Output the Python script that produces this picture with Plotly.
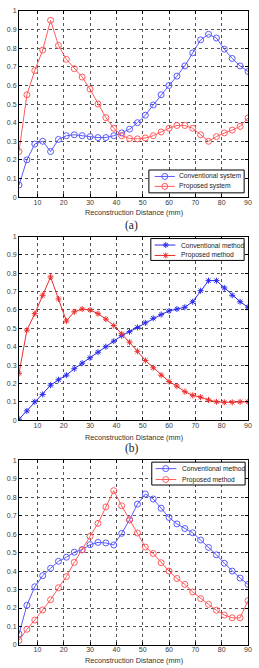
import plotly.graph_objects as go

x = [3, 6, 9, 12, 15, 18, 21, 24, 27, 30, 33, 36, 39, 42, 45, 48, 51, 54, 57, 60,
     63, 66, 69, 72, 75, 78, 81, 84, 87, 90]

# (a)
a_conventional = [0.065, 0.20, 0.285, 0.30, 0.245, 0.31, 0.33, 0.335, 0.33, 0.325,
                  0.32, 0.32, 0.33, 0.345, 0.365, 0.40, 0.44, 0.495, 0.55, 0.60,
                  0.65, 0.705, 0.775, 0.845, 0.875, 0.855, 0.795, 0.745, 0.705, 0.675]
a_proposed = [0.245, 0.55, 0.68, 0.79, 0.95, 0.815, 0.74, 0.69, 0.645, 0.58,
              0.50, 0.427, 0.37, 0.33, 0.315, 0.313, 0.318, 0.33, 0.35, 0.37,
              0.385, 0.385, 0.37, 0.335, 0.30, 0.325, 0.345, 0.36, 0.38, 0.425]
# (b)
b_conventional = [0.005, 0.05, 0.10, 0.14, 0.19, 0.22, 0.245, 0.28, 0.31, 0.34,
                  0.37, 0.40, 0.43, 0.46, 0.482, 0.505, 0.53, 0.555, 0.575, 0.595,
                  0.605, 0.615, 0.645, 0.705, 0.76, 0.76, 0.72, 0.68, 0.645, 0.615]
b_proposed = [0.255, 0.49, 0.58, 0.68, 0.78, 0.66, 0.54, 0.59, 0.605, 0.60,
              0.58, 0.55, 0.515, 0.47, 0.425, 0.375, 0.325, 0.285, 0.245, 0.21,
              0.185, 0.155, 0.135, 0.125, 0.11, 0.10, 0.097, 0.097, 0.10, 0.10]
# (c)
c_conventional = [0.06, 0.215, 0.315, 0.375, 0.415, 0.453, 0.475, 0.502, 0.516, 0.543,
                  0.555, 0.552, 0.541, 0.604, 0.677, 0.762, 0.817, 0.79, 0.74, 0.69,
                  0.655, 0.63, 0.607, 0.568, 0.528, 0.488, 0.442, 0.40, 0.362, 0.328]
c_proposed = [0.025, 0.085, 0.135, 0.19, 0.245, 0.31, 0.37, 0.447, 0.514, 0.588,
              0.658, 0.747, 0.835, 0.753, 0.677, 0.606, 0.53, 0.495, 0.445, 0.40,
              0.36, 0.328, 0.287, 0.251, 0.22, 0.188, 0.162, 0.147, 0.147, 0.24]

x_ticks = [10, 20, 30, 40, 50, 60, 70, 80, 90]
y_ticks = [0, 0.1, 0.2, 0.3, 0.4, 0.5, 0.6, 0.7, 0.8, 0.9, 1]
y_ticktext = ["0", "0.1", "0.2", "0.3", "0.4", "0.5", "0.6", "0.7", "0.8", "0.9", "1"]
x_title = "Reconstruction Distance (mm)"
captions = ["(a)", "(b)"]
legend_names = [["Conventional system", "Proposed system"],
                ["Conventional method", "Proposed method"],
                ["Conventional method", "Proposed method"]]

BLUE1, RED1 = "#5a5aff", "#ff5a5a"
BLUE2, RED2 = "#2a2aee", "#ee2c2c"

W, H = 259, 668
L, R, T, B = 13, 8, 7, 23
ph = H - T - B

def py2paper(p):
    return (H - B - p) / ph

series = [
    (1, a_conventional, BLUE1, "circle-open", 6, 1),
    (1, a_proposed, RED1, "circle-open", 6, 1),
    (2, b_conventional, BLUE2, "asterisk-open", 5, 1),
    (2, b_proposed, RED2, "asterisk-open", 5, 1),
    (3, c_conventional, BLUE1, "circle-open", 6, 1),
    (3, c_proposed, RED1, "circle-open", 6, 1),
]

fig = go.Figure()
for idx, yv, color, symbol, msize, mlw in series:
    sx = "" if idx == 1 else str(idx)
    fig.add_trace(go.Scatter(
        x=x, y=yv, mode="lines+markers", showlegend=False,
        line=dict(color=color, width=1),
        marker=dict(symbol=symbol, size=msize, color=color, line=dict(color=color, width=mlw)),
        xaxis="x" + sx, yaxis="y" + sx))

# Legend boxes drawn on a pixel-unit overlay axis (x4/y4)
legend_boxes = [  # (left, right, top, bottom, line_x0, marker_x, line_x1, text_x, row1_y, row2_y)
    (148, 247, 167, 190, 154, 164.5, 175, 177.5, 173.5, 183.5),
    (150, 247, 236, 258, 154, 165.5, 175.5, 179, 242.5, 253),
    (151, 248, 461, 484, 155, 165.5, 176.5, 180, 467.5, 478.5),
]
annots = []
for k, (l, r, t, b, lx0, mx, lx1, tx, r1, r2) in enumerate(legend_boxes):
    fig.add_trace(go.Scatter(x=[l, r, r, l, l], y=[t, t, b, b, t], mode="lines", fill="toself",
                             fillcolor="white", line=dict(color="black", width=1),
                             showlegend=False, hoverinfo="skip", xaxis="x4", yaxis="y4"))
    for j, ry in enumerate([r1, r2]):
        _, _, color, symbol, msize, mlw = series[2 * k + j]
        fig.add_trace(go.Scatter(x=[lx0, lx1], y=[ry, ry], mode="lines",
                                 line=dict(color=color, width=1), showlegend=False,
                                 hoverinfo="skip", xaxis="x4", yaxis="y4"))
        fig.add_trace(go.Scatter(x=[mx], y=[ry], mode="markers",
                                 marker=dict(symbol=symbol, size=msize, color=color,
                                             line=dict(color=color, width=mlw)),
                                 showlegend=False, hoverinfo="skip", xaxis="x4", yaxis="y4"))
        annots.append(dict(text=legend_names[k][j], x=tx, y=ry, xref="x4", yref="y4",
                           xanchor="left", yanchor="middle", showarrow=False,
                           font=dict(family="Liberation Sans, Arial, sans-serif", size=6.7,
                                     color="#222222")))

domains = [(py2paper(194.3), 1.0), (py2paper(418.7), py2paper(234)), (0.0, py2paper(459))]

tickfont = dict(family="Liberation Sans, Arial, sans-serif", size=7, color="#3a3a3a")
common_x = dict(range=[3, 90], tickvals=x_ticks, ticks="inside", ticklen=3, tickcolor="black",
                showline=True, linecolor="black", linewidth=1, mirror="ticks",
                showgrid=True, gridcolor="#555555", griddash="dot", gridwidth=1,
                zeroline=False, tickfont=tickfont, fixedrange=True, ticklabelstandoff=-2)
common_y = dict(range=[0, 1], tickvals=y_ticks, ticktext=y_ticktext, ticks="inside", ticklen=3,
                tickcolor="black", showline=True, linecolor="black", linewidth=1, mirror="ticks",
                showgrid=True, gridcolor="#555555", griddash="dot", gridwidth=1,
                zeroline=False, tickfont=tickfont, fixedrange=True)

layout = dict(width=W, height=H, margin=dict(l=L, r=R, t=T, b=B),
              paper_bgcolor="white", plot_bgcolor="rgba(0,0,0,0)", showlegend=False)
for i, dom in enumerate(domains, start=1):
    sx = "" if i == 1 else str(i)
    layout[f"xaxis{sx}"] = dict(common_x, domain=[0, 1], anchor=f"y{sx}")
    layout[f"yaxis{sx}"] = dict(common_y, domain=list(dom), anchor=f"x{sx}")
layout["xaxis4"] = dict(domain=[0, 1], range=[L, W - R], visible=False, fixedrange=True,
                        anchor="y4")
layout["yaxis4"] = dict(domain=[0, 1], range=[H - B, T], visible=False, fixedrange=True,
                        anchor="x4")
fig.update_layout(**layout)

for p in [209.5, 436, 660.5]:
    annots.append(dict(text=x_title, xref="paper", yref="paper", x=0.5, y=py2paper(p),
                       showarrow=False, xanchor="center", yanchor="middle",
                       font=dict(family="Liberation Sans, Arial, sans-serif", size=7.3,
                                 color="#333333")))
for cap, p in zip(captions, [222.5, 447.5]):
    annots.append(dict(text=cap, xref="paper", yref="paper", x=(130 - L) / (W - L - R),
                       y=py2paper(p), showarrow=False, xanchor="center", yanchor="middle",
                       font=dict(family="Liberation Serif, Times New Roman, serif", size=11.5,
                                 color="#222222")))
fig.update_layout(annotations=annots)

fig.write_html("out.html", config=dict(displayModeBar=False))
